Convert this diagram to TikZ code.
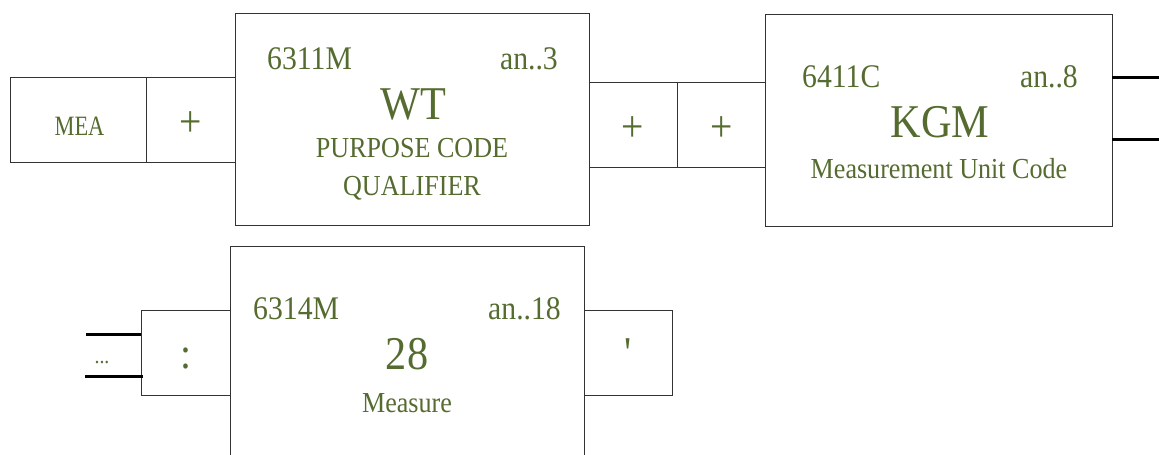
\documentclass[tikz,border=0pt]{standalone}
\usepackage{fontspec}
\setmainfont{Liberation Serif}[FakeStretch=0.9]
\definecolor{txtgreen}{RGB}{85,107,47}
\tikzset{
  box/.style={draw=black!80, line width=1pt, inner sep=0pt, outer sep=0pt},
  lbl/.style={text=txtgreen, inner sep=0pt, font=\fontsize{33}{33}\selectfont},
  code/.style={text=txtgreen, inner sep=0pt, font=\fontsize{47}{47}\selectfont},
  desc/.style={text=txtgreen, inner sep=0pt, font=\fontsize{29}{29}\selectfont},
  sym/.style={text=txtgreen, inner sep=0pt, font=\fontsize{44}{44}\selectfont},
  tag/.style={text=txtgreen, inner sep=0pt, font=\fontsize{28}{28}\selectfont},
  conn/.style={line width=3pt, black},
}
\begin{document}
\begin{tikzpicture}[x=1pt,y=-1pt]
\useasboundingbox (0,0) rectangle (1159,455);
% boxes
\node[box, minimum width=136pt, minimum height=85pt] (mea) at (78,119.5) {};
\node[box, minimum width=89pt, minimum height=85pt] (plusA) at (190.5,119.5) {};
\node[box, minimum width=354pt, minimum height=212pt] (wt) at (412,119) {};
\node[box, minimum width=88pt, minimum height=85pt] (plusB) at (633,124.5) {};
\node[box, minimum width=88pt, minimum height=85pt] (plusC) at (721,124.5) {};
\node[box, minimum width=347pt, minimum height=212pt] (kgm) at (938.5,120) {};
\node[box, minimum width=89pt, minimum height=85pt] (colon) at (185.5,352.5) {};
\node[box, minimum width=354pt, minimum height=234pt] (mes) at (407,363) {};
\node[box, minimum width=88pt, minimum height=85pt] (apos) at (628,352.5) {};
% texts
\node[tag, anchor=base] (meaT) at (79.5,135) {\addfontfeature{FakeStretch=0.8}MEA};
\node[sym] (plusAT) at (190.5,124.5) {+};
\node[sym] (plusBT) at (633,129) {+};
\node[sym] (plusCT) at (721.5,129) {+};
\node[lbl, anchor=base west] (wtId) at (267,69) {6311M};
\node[lbl, anchor=base east] (wtFmt) at (558,69) {an..3};
\node[code, anchor=base] (wtCode) at (413,119) {WT};
\node[desc, anchor=base] (wtD1) at (412,157) {PURPOSE CODE};
\node[desc, anchor=base] (wtD2) at (412,195) {QUALIFIER};
\node[lbl, anchor=base west] (kgmId) at (802,87) {6411C};
\node[lbl, anchor=base east] (kgmFmt) at (1078,87) {an..8};
\node[code, anchor=base] (kgmCode) at (940,137) {KGM};
\node[desc, anchor=base] (kgmD) at (939,178) {Measurement Unit Code};
\node[lbl, anchor=base west] (mesId) at (253,319) {6314M};
\node[lbl, anchor=base east] (mesFmt) at (561,319) {an..18};
\node[code, anchor=base] (mesCode) at (407,369) {28};
\node[desc, anchor=base] (mesD) at (407,412) {Measure};
\node[sym] (colonT) at (186,358) {:};
\node[sym, anchor=north] (aposT) at (628,338) {\textquotesingle};
\node[text=txtgreen, inner sep=0pt, font=\fontsize{22}{22}\selectfont, anchor=base] (dots) at (102,363) {...};
% connectors
\coordinate (r1) at (1160,77);
\coordinate (r2) at (1160,139);
\coordinate (l1) at (86,334);
\coordinate (l2) at (85,376);
\draw[conn] (kgm.east |- r1) -- (r1);
\draw[conn] (kgm.east |- r2) -- (r2);
\draw[conn] (l1) -- (colon.west |- l1);
\draw[conn] (l2) -- ([xshift=2pt]colon.west |- l2);
\end{tikzpicture}
\end{document}
